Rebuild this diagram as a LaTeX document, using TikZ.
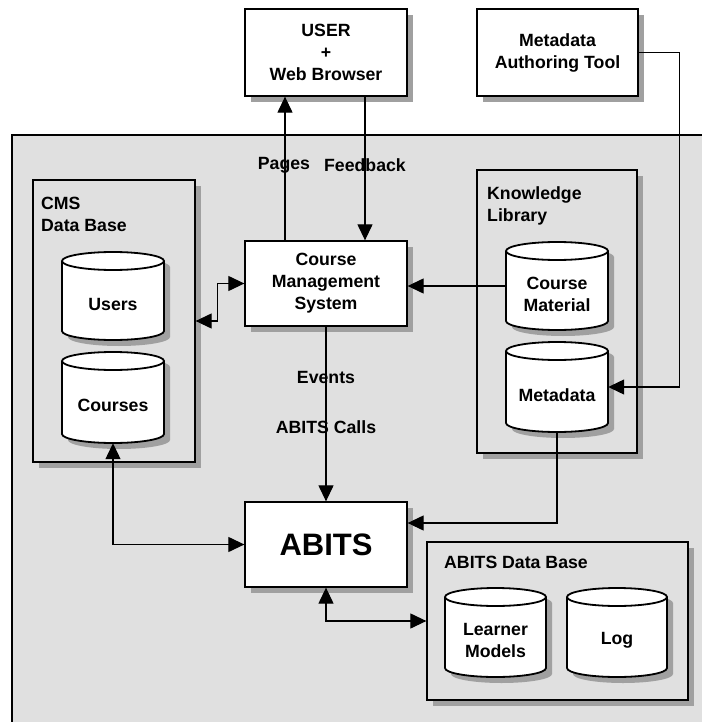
\documentclass[tikz,border=0pt]{standalone}
\usepackage{fontspec}
\setmainfont{Liberation Sans}
\usetikzlibrary{arrows.meta,shadows}
\definecolor{bggray}{RGB}{224,224,224}
\definecolor{shadowgray}{RGB}{160,160,160}
\newcommand{\lblfont}{\fontsize{17.7}{22}\selectfont\bfseries}
\newcommand{\bigfont}{\fontsize{31}{36}\selectfont\bfseries}
\newcommand{\dbcyl}[6]{%
  \pgfmathsetmacro{\cylcx}{(#2+#4)/2}%
  \pgfmathsetmacro{\cylrx}{(#4-#2)/2}%
  \pgfmathsetmacro{\cylw}{#4-#2}%
  \pgfmathsetmacro{\cylh}{#5-#3}%
  \pgfmathsetmacro{\cylcy}{(#3+#5)/2}%
  \begin{scope}[shift={(6,6)}]
    \fill[shadowgray] (#2,#3+9) -- (#2,#5-9) arc[start angle=180,end angle=0,x radius=\cylrx,y radius=9] -- (#4,#3+9) arc[start angle=0,end angle=-180,x radius=\cylrx,y radius=9] -- cycle;
  \end{scope}
  \draw[cylline,fill=white] (#2,#3+9) -- (#2,#5-9) arc[start angle=180,end angle=0,x radius=\cylrx,y radius=9] -- (#4,#3+9) arc[start angle=0,end angle=-180,x radius=\cylrx,y radius=9] -- cycle;
  \draw[cylline] (#2,#3+9) arc[start angle=180,end angle=0,x radius=\cylrx,y radius=9];
  \node[cylnode,minimum width=\cylw pt,minimum height=\cylh pt,label={[lbl,yshift=-8pt]center:{#6}}] (#1) at (\cylcx,\cylcy) {};
}
\tikzset{
  lbl/.style={font=\lblfont,align=center,inner sep=0pt},
  shad/.style={drop shadow={shadow xshift=6pt,shadow yshift=-6pt,fill=shadowgray,opacity=1}},
  box/.style={draw,line width=1.3pt,fill=white,shad,minimum width=162pt,minimum height=86pt,align=center,font=\lblfont,inner sep=0pt},
  container/.style={draw,line width=1.3pt,fill=bggray,shad,inner sep=0pt},
  cylline/.style={line width=1.8pt},
  cylnode/.style={inner sep=0pt},
  conn/.style={line width=1.2pt},
  arr/.style={-{Triangle[length=16pt,width=15pt]}},
  darr/.style={{Triangle[length=16pt,width=15pt]}-{Triangle[length=16pt,width=15pt]}}
}
\begin{document}
\begin{tikzpicture}[x=1pt,y=-1pt]
\useasboundingbox (0,0) rectangle (701,722);
% background region
\fill[bggray] (12,135) rectangle (710,730);
\draw[line width=1.3pt] (12,730) -- (12,135) -- (710,135);

% containers
\node[container,minimum width=162pt,minimum height=282pt] (cmsdb) at (114,321) {};
\node[container,minimum width=160pt,minimum height=283pt] (kl) at (557,311.5) {};
\node[container,minimum width=261pt,minimum height=158pt] (abitsdb) at (557.5,621) {};
\node[lbl,anchor=north west,align=left] (cmsdblbl) at (41,197) {CMS\\Data Base};
\node[lbl,anchor=north west,align=left] (kllbl) at (487,186) {Knowledge\\Library};
\node[lbl,anchor=north west,align=left] (abitsdblbl) at (444,556) {ABITS Data Base};

% cylinders
\dbcyl{users}{62}{252}{164}{340}{Users}
\dbcyl{courses}{62}{352}{164}{443}{Courses}
\dbcyl{cmat}{506}{242}{608}{330}{Course\\Material}
\dbcyl{meta}{506}{342}{608}{432}{Metadata}
\dbcyl{learner}{445}{588}{546}{677}{Learner\\Models}
\dbcyl{log}{567}{588}{667}{677}{Log}

% main boxes
\node[box,minimum height=87pt] (user) at (326,52.5) {USER\\+\\Web Browser};
\node[box,minimum width=161pt,minimum height=87pt] (mat) at (557.5,52.5) {Metadata\\Authoring Tool};
\node[box,minimum height=85pt] (cms) at (326,283.5) {Course\\Management\\System};
\node[box,minimum height=85pt,font=\bigfont] (abits) at (326,544.5) {ABITS};

% connector labels
\node[lbl] (pages) at (284,165) {Pages};
\node[lbl] (feedback) at (365,165) {Feedback};
\node[lbl] (events) at (326,377) {Events};
\node[lbl] (calls) at (326,427) {ABITS Calls};

% connectors
\draw[conn,arr] ([xshift=-41pt]cms.north) -- ([xshift=-41pt]user.south);
\draw[conn,arr] ([xshift=39pt]user.south) -- ([xshift=39pt]cms.north);
\draw[conn,darr] (cms.west) -- ++(-27,0) |- (cmsdb.east);
\draw[conn,arr] (cmat.west) -- (cmat.west -| cms.east);
\draw[conn,arr] (mat.east) -- ++(41,0) |- (meta.east);
\draw[conn,arr] (cms.south) -- (abits.north);
\draw[conn,arr] (meta.south) |- ([yshift=21.5pt]abits.east);
\draw[conn,darr] (courses.south) |- (abits.west);
\draw[conn,darr] (abits.south) |- (abitsdb.west);
\end{tikzpicture}
\end{document}
